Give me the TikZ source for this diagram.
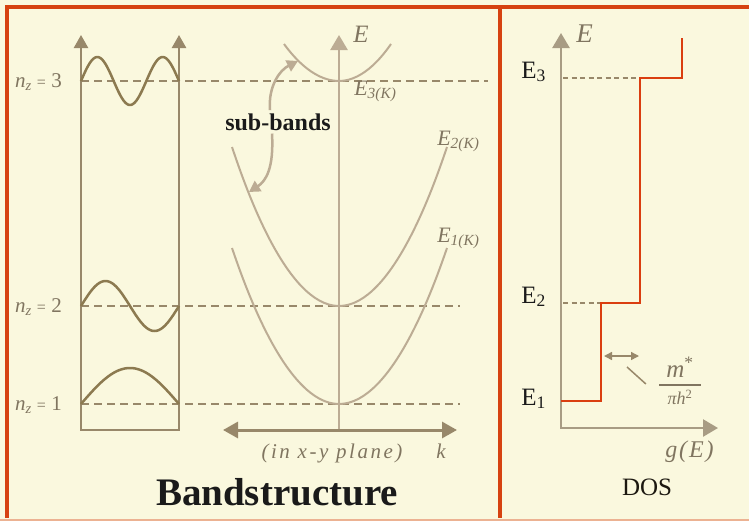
\documentclass[tikz,border=0pt]{standalone}
\usepackage{fontspec}
\setmainfont{Liberation Serif}
\usetikzlibrary{arrows.meta}
\definecolor{cream}{RGB}{250,248,222}
\definecolor{frameorange}{RGB}{214,66,16}
\definecolor{paleorange}{RGB}{236,178,146}
\definecolor{wellbrown}{RGB}{152,136,106}
\definecolor{wavebrown}{RGB}{140,122,80}
\definecolor{bandtan}{RGB}{188,172,148}
\definecolor{axisgray}{RGB}{168,156,132}
\definecolor{labelgray}{RGB}{128,117,96}
\definecolor{stepred}{RGB}{218,62,16}
\definecolor{inkblack}{RGB}{26,26,26}

\begin{document}
\begin{tikzpicture}[x=1pt,y=-1pt,>={Triangle[length=13pt,width=14pt]},
  line width=2.5pt,font=\fontsize{18}{20}\selectfont,
  wall/.style={draw=wellbrown},
  lvl/.style={draw=wellbrown,line width=2.8pt,dash pattern=on 8pt off 5pt},
  dotlvl/.style={draw=wellbrown,line width=2.8pt,dash pattern=on 5pt off 3.5pt},
  wave/.style={draw=wavebrown},
  band/.style={draw=bandtan,line width=2pt},
  lab/.style={text=labelgray,inner sep=0pt},
  blk/.style={text=inkblack,inner sep=0pt}]
\useasboundingbox (0,0) rectangle (749,520);
\fill[cream] (0,0) rectangle (749,520);
% frame of the two panels
\draw[frameorange,line width=4pt] (749,7) -- (6.5,7) -- (6.5,518);
\draw[frameorange,line width=4pt] (499.5,7) -- (499.5,518);
\draw[paleorange,line width=2pt] (0,519.5) -- (749,519.5);
% state in the well: #1 = level y, #2 = amplitude, #3 = n, #4 = end of dashes
\newcommand{\qwstate}[4]{%
  \draw[lvl] (81,#1) -- (#4,#1);
  \draw[wave] plot[domain=81:179,samples=70,smooth] (\x,{#1-#2*sin(((\x-81)/49)*#3*90)});
  \node[lab,anchor=base east,font=\fontsize{21}{21}\selectfont] (nz#3) at (63,#1+6)
    {\textit{n}\textsubscript{\textit{z}} {\fontsize{16}{16}\selectfont=} #3};
}
% quantum well walls
\draw[wall,<->] (81,35) -- (81,430) -- (179,430) -- (179,35);
\qwstate{81}{24}{3}{488}
\qwstate{306}{25}{2}{460}
\qwstate{404}{36}{1}{460}
% in-plane dispersion
\draw[band] (284,44) parabola bend (339,81) (391,44);
\draw[band] (232,147) parabola bend (339,306) (447,147);
\draw[band] (232,248) parabola bend (339,404) (447,248);
\draw[draw=bandtan,->,>={Triangle[length=15pt,width=17pt]}] (339,430) -- (339,35);
\draw[wall,line width=3pt,<->,>={Triangle[length=15pt,width=16pt]}] (223,430) -- (457,430);
\node[lab,anchor=base west,font=\fontsize{25}{25}\selectfont] (Etop) at (352,42) {\textit{E}};
\node[lab,anchor=base west,font=\fontsize{22}{22}\selectfont] (E3k) at (353,95) {\textit{E}\textsubscript{\textit{3(K)}}};
\node[lab,anchor=base west,font=\fontsize{22}{22}\selectfont] (E2k) at (436,145) {\textit{E}\textsubscript{\textit{2(K)}}};
\node[lab,anchor=base west,font=\fontsize{22}{22}\selectfont] (E1k) at (436,242) {\textit{E}\textsubscript{\textit{1(K)}}};
\node[lab,anchor=base,font=\fontsize{21}{21}\selectfont\itshape\addfontfeatures{LetterSpace=12}] (plane) at (332,458) {(in x-y plane)};
\node[lab,anchor=base west,font=\fontsize{21}{21}\selectfont\itshape] (kx) at (435,458) {k};
% sub-band arrows
\node[blk,anchor=base,font=\fontsize{24}{24}\selectfont\bfseries,inner sep=2pt] (subbands) at (278,130) {sub-bands};
\coordinate (e3arm) at (298,61);
\coordinate (e2arm) at (249,192);
\draw[draw=bandtan,->,>={Triangle[length=11pt,width=12pt]}] ([xshift=-8pt]subbands.north)
  .. controls (268,86) and (280,70) .. (e3arm);
\draw[draw=bandtan,->,>={Triangle[length=11pt,width=12pt]}] ([xshift=-6pt]subbands.south)
  .. controls (274,168) and (266,181) .. (e2arm);
\node[blk,anchor=base,font=\fontsize{39}{39}\selectfont\bfseries] (title) at (277,505) {Bandstructure};
% density of states
\draw[dotlvl] (563,78) -- (640,78);
\draw[dotlvl] (563,303) -- (601,303);
\draw[draw=axisgray,<->,>={Triangle[length=15pt,width=17pt]}] (561,33) -- (561,428) -- (718,428);
\draw[stepred] (561,401) -- (601,401) -- (601,303) -- (640,303) -- (640,78) -- (682,78) -- (682,38);
\node[lab,anchor=base west,font=\fontsize{27}{27}\selectfont] (Edos) at (575,42) {\textit{E}};
\node[lab,anchor=base west,font=\fontsize{24}{24}\selectfont\itshape\addfontfeatures{LetterSpace=8}] (gE) at (664,457) {g(E)};
\node[blk,anchor=base west,font=\fontsize{25}{25}\selectfont] (En3) at (520,78) {E\textsubscript{3}};
\node[blk,anchor=base west,font=\fontsize{25}{25}\selectfont] (En2) at (520,303) {E\textsubscript{2}};
\node[blk,anchor=base west,font=\fontsize{25}{25}\selectfont] (En1) at (520,405) {E\textsubscript{1}};
\node[blk,anchor=base,font=\fontsize{25}{25}\selectfont,text=black!80!wavebrown] (dos) at (647,495) {DOS};
% step height
\node[lab] (frac) at (680,381) {$\displaystyle{\mbox{\hspace{7pt}\fontsize{25}{25}\selectfont\textit{m}\textsuperscript{*}\hspace{7pt}}
  \above 1.5pt \mbox{\fontsize{18}{18}\selectfont\textit{πh}\textsuperscript{2}}}$};
\coordinate (stepL) at (604,356);
\coordinate (stepR) at (639,356);
\draw[draw=wellbrown,line width=1.5pt,<->,>={Triangle[length=8pt,width=8pt]}] (stepL) -- (stepR);
\draw[draw=wellbrown,line width=1.5pt] (627,367) -- ([shift={(-11pt,-3pt)}]frac.west);
\end{tikzpicture}
\end{document}
